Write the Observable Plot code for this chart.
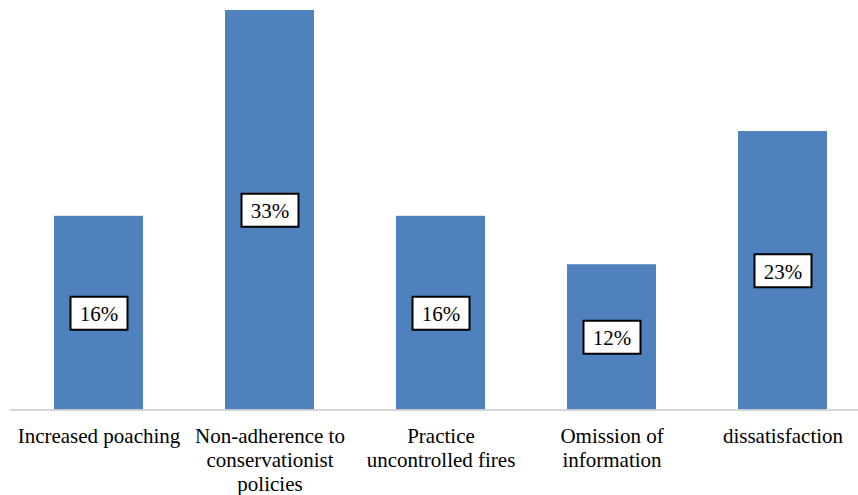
<!DOCTYPE html>
<html>
<head>
<meta charset="utf-8">
<script src="https://cdn.jsdelivr.net/npm/d3@7"></script>
<script src="https://cdn.jsdelivr.net/npm/@observablehq/plot@0.6"></script>
<style>
  html, body { margin: 0; padding: 0; background: #fff; }
  svg { display: block; }
  svg text, svg { font-family: "Times New Roman", "Liberation Serif", "DejaVu Serif", serif !important; }
</style>
</head>
<body>
<div id="chart"></div>
<script>
const categories = [
  "Increased poaching",
  "Non-adherence to\nconservationist\npolicies",
  "Practice\nuncontrolled fires",
  "Omission of\ninformation",
  "dissatisfaction"
];
const values = [16, 33, 16, 12, 23];
const valueLabels = ["16%", "33%", "16%", "12%", "23%"];

const data = categories.map((c, i) => ({cat: c, v: values[i], label: valueLabels[i]}));

const boxSymbol = {
  draw(context, size) {
    context.moveTo(-28.5, -16.5);
    context.lineTo(28.5, -16.5);
    context.lineTo(28.5, 16.5);
    context.lineTo(-28.5, 16.5);
    context.closePath();
  }
};

const chart = Plot.plot({
  width: 858,
  height: 495,
  marginLeft: 10,
  marginRight: 0,
  marginTop: 10,
  marginBottom: 85.5,
  style: {fontSize: "21px", color: "#000", background: "#fff"},
  x: {domain: categories, range: [10.6, 869.4], paddingInner: 0.482, paddingOuter: 0.241, align: 0.5},
  y: {domain: [0, 33], axis: null},
  marks: [
    Plot.barY(data, {x: "cat", y: "v", fill: "#4f81bd"}),
    Plot.ruleY([0], {stroke: "#c8c8c8", strokeWidth: 1.5}),
    Plot.dot(data, {x: "cat", y: d => d.v / 2, symbol: boxSymbol, r: 10, fill: "#fff", stroke: "#000", strokeWidth: 2}),
    Plot.text(data, {x: "cat", y: d => d.v / 2, text: "label", fontSize: 21, fill: "#000", dy: 1}),
    Plot.axisX({tickSize: 0, tickPadding: 16, fontSize: 21, lineHeight: 1.14, label: null, fill: "#000"})
  ]
});
document.getElementById("chart").appendChild(chart);
</script>
</body>
</html>
